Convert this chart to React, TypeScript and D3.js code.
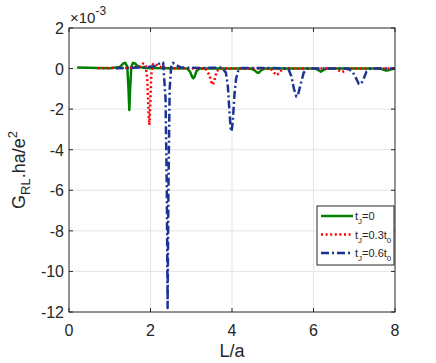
import React from 'react';
import * as d3 from 'd3';

// L/a positions and G_RL values (x1e-3)
const greenL = [0.2, 1.0, 1.25, 1.33, 1.38, 1.43, 1.46, 1.48, 1.5, 1.53, 1.57, 1.62, 1.7, 1.85, 2.5, 2.9, 2.97, 3.02, 3.05, 3.08, 3.13, 3.2, 4.45, 4.55, 4.62, 4.66, 4.72, 4.8, 6.05, 6.12, 6.18, 6.24, 6.32, 7.65, 7.72, 7.78, 7.85, 7.92, 8.0];
const greenG = [0.05, 0.02, 0.08, 0.25, 0.28, 0.1, -1.0, -2.04, -1.0, 0.1, 0.28, 0.25, 0.1, 0.03, 0.02, 0.0, -0.15, -0.4, -0.48, -0.4, -0.12, 0.0, 0.0, -0.08, -0.2, -0.2, -0.08, 0.0, 0.0, -0.08, -0.15, -0.08, 0.0, 0.0, -0.06, -0.1, -0.08, -0.03, 0.0];

const redL = [0.7, 1.5, 1.75, 1.82, 1.88, 1.92, 1.95, 1.97, 1.99, 2.02, 2.06, 2.12, 2.2, 2.4, 3.35, 3.44, 3.5, 3.53, 3.56, 3.62, 3.7, 4.95, 5.03, 5.1, 5.16, 5.25, 6.55, 6.63, 6.7, 6.77, 6.85, 8.0];
const redG = [0.02, 0.03, 0.1, 0.25, 0.2, -0.5, -2.0, -2.78, -2.0, -0.3, 0.22, 0.25, 0.1, 0.02, 0.0, -0.3, -0.7, -0.8, -0.65, -0.15, 0.0, 0.0, -0.2, -0.33, -0.2, 0.0, 0.0, -0.1, -0.18, -0.1, 0.0, 0.0];

const blueL = [1.15, 1.8, 2.1, 2.25, 2.31, 2.37, 2.4, 2.42, 2.44, 2.47, 2.51, 2.55, 2.62, 2.75, 3.3, 3.75, 3.85, 3.9, 3.94, 3.97, 3.99, 4.02, 4.06, 4.1, 4.16, 4.25, 5.2, 5.38, 5.46, 5.52, 5.58, 5.62, 5.68, 5.76, 5.85, 6.85, 6.97, 7.05, 7.11, 7.16, 7.22, 7.3, 7.4, 8.0];
const blueG = [0.02, 0.05, 0.12, 0.28, 0.3, -1.5, -6.0, -11.8, -6.0, -1.0, 0.15, 0.28, 0.18, 0.05, 0.03, 0.05, -0.2, -0.9, -2.2, -3.0, -3.1, -2.6, -1.3, -0.5, -0.05, 0.03, 0.02, 0.0, -0.4, -1.0, -1.38, -1.3, -0.8, -0.2, 0.0, 0.0, -0.2, -0.5, -0.75, -0.78, -0.55, -0.15, 0.0, 0.0];

const xTicks = [0, 2, 4, 6, 8];
const yTicks = [2, 0, -2, -4, -6, -8, -10, -12];

const series = [
  { L: greenL, G: greenG, color: '#008000', dash: null, label: '0' },
  { L: redL, G: redG, color: '#ff0000', dash: '2,2.6', label: '0.3' },
  { L: blueL, G: blueG, color: '#1c3394', dash: '8,3,2,3', label: '0.6' },
];

const font = 'Liberation Sans, Arial, Helvetica, sans-serif';
const axisCol = '#262626';

export default function App() {
  const left = 69, right = 395, top = 28, bottom = 312;
  const x = d3.scaleLinear().domain([0, 8]).range([left, right]);
  const y = d3.scaleLinear().domain([-12, 2]).range([bottom, top]);

  const lx = 317, ly = 206;

  return (
    <svg width={436} height={363} style={{ position: 'absolute', left: 0, top: 0, background: '#fff' }} fontFamily={font}>
      <rect x={0} y={0} width={436} height={363} fill="#fff" />
      {/* grid */}
      {xTicks.slice(1, -1).map(t => (
        <line key={'gx' + t} x1={x(t)} x2={x(t)} y1={top} y2={bottom} stroke="#e5e5e5" strokeWidth={1} />
      ))}
      {yTicks.slice(1, -1).map(t => (
        <line key={'gy' + t} x1={left} x2={right} y1={y(t)} y2={y(t)} stroke="#e5e5e5" strokeWidth={1} />
      ))}
      {/* curves */}
      {series.map((s, i) => {
        const pts = s.L.map((l, j) => [x(l), y(s.G[j])] as [number, number]);
        return (
          <path key={i} d={d3.line()(pts) || ''} fill="none" stroke={s.color} strokeWidth={2.5}
            strokeDasharray={s.dash || undefined} strokeLinejoin="round" />
        );
      })}
      {/* axes box */}
      <rect x={left} y={top} width={right - left} height={bottom - top} fill="none" stroke={axisCol} strokeWidth={1} />
      {xTicks.map(t => (
        <g key={'tx' + t}>
          <line x1={x(t)} x2={x(t)} y1={bottom} y2={bottom - 4} stroke={axisCol} />
          <line x1={x(t)} x2={x(t)} y1={top} y2={top + 4} stroke={axisCol} />
          <text x={x(t)} y={336} fontSize={16} textAnchor="middle" fill={axisCol}>{t}</text>
        </g>
      ))}
      {yTicks.map(t => (
        <g key={'ty' + t}>
          <line x1={left} x2={left + 4} y1={y(t)} y2={y(t)} stroke={axisCol} />
          <line x1={right} x2={right - 4} y1={y(t)} y2={y(t)} stroke={axisCol} />
          <text x={64} y={y(t) + 6} fontSize={16} textAnchor="end" fill={axisCol}>{t}</text>
        </g>
      ))}
      {/* exponent */}
      <text x={70} y={23} fontSize={15} fill={axisCol}>
        ×10<tspan dy={-8} fontSize={12}>-3</tspan>
      </text>
      {/* axis labels */}
      <text x={232} y={357} fontSize={18} textAnchor="middle" fill={axisCol}>L/a</text>
      <text transform={`translate(25,170) rotate(-90)`} fontSize={18} textAnchor="middle" fill={axisCol}>
        G<tspan dy={5} fontSize={13}>RL</tspan><tspan dy={-5}>.ha/e</tspan><tspan dy={-8} fontSize={13}>2</tspan>
      </text>
      {/* legend */}
      <rect x={lx} y={ly} width={77} height={59} fill="#fff" stroke="#262626" strokeWidth={1} />
      {series.map((s, i) => {
        const yy = ly + 10 + i * 18.5;
        return (
          <g key={'lg' + i}>
            <line x1={lx + 4} x2={lx + 36} y1={yy} y2={yy} stroke={s.color} strokeWidth={2.5} strokeDasharray={s.dash || undefined} />
            <text x={lx + 38} y={yy + 4} fontSize={11} fill={axisCol}>
              t<tspan dy={4} fontSize={8}>J</tspan><tspan dy={-4}>={s.label}</tspan>
              {s.label !== '0' ? <><tspan>t</tspan><tspan dy={4} fontSize={8}>0</tspan></> : null}
            </text>
          </g>
        );
      })}
    </svg>
  );
}
